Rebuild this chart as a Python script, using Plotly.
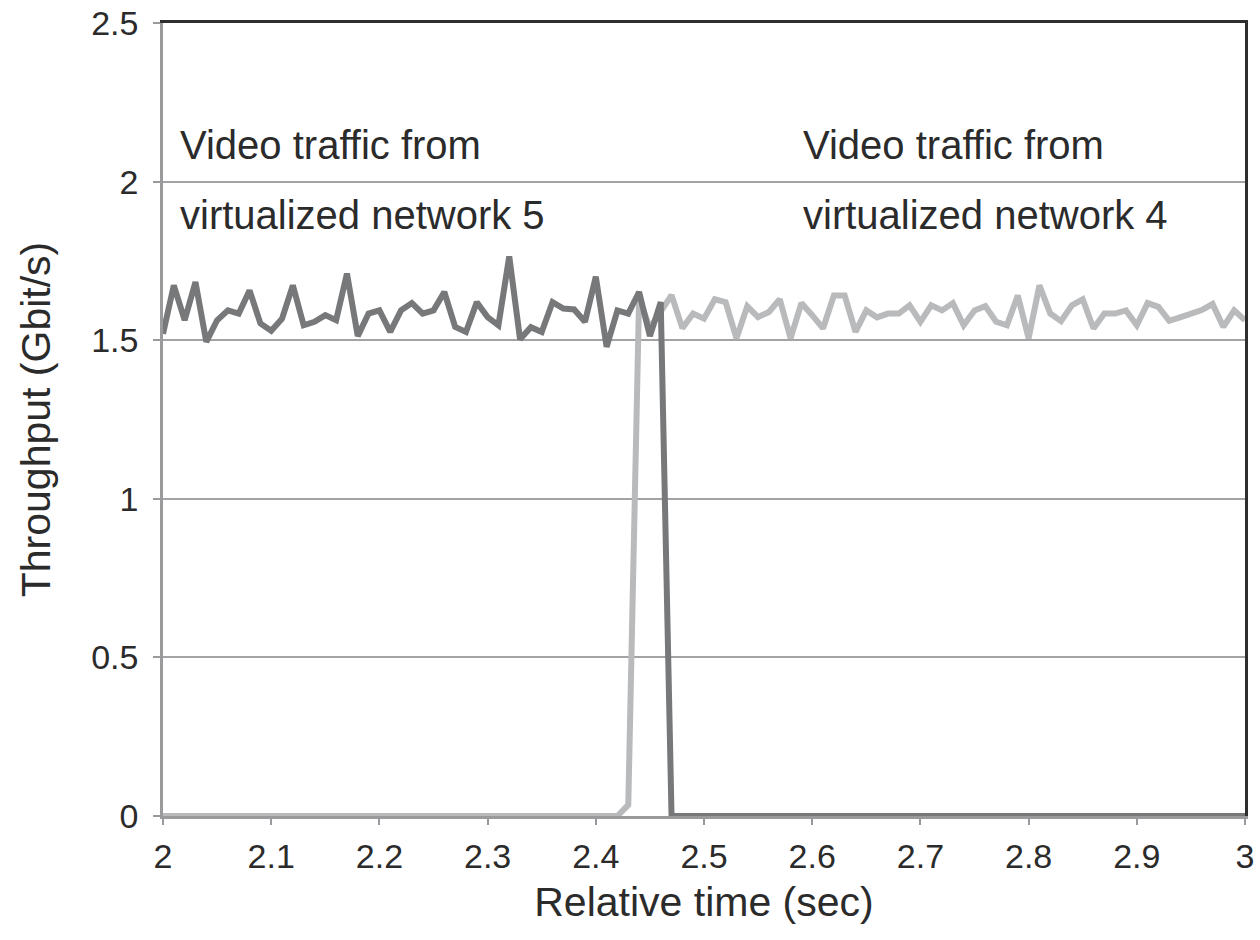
import plotly.graph_objects as go

time_sec = [
    2.00, 2.01, 2.02, 2.03, 2.04, 2.05, 2.06, 2.07, 2.08, 2.09,
    2.10, 2.11, 2.12, 2.13, 2.14, 2.15, 2.16, 2.17, 2.18, 2.19,
    2.20, 2.21, 2.22, 2.23, 2.24, 2.25, 2.26, 2.27, 2.28, 2.29,
    2.30, 2.31, 2.32, 2.33, 2.34, 2.35, 2.36, 2.37, 2.38, 2.39,
    2.40, 2.41, 2.42, 2.43, 2.44, 2.45, 2.46, 2.47, 2.48, 2.49,
    2.50, 2.51, 2.52, 2.53, 2.54, 2.55, 2.56, 2.57, 2.58, 2.59,
    2.60, 2.61, 2.62, 2.63, 2.64, 2.65, 2.66, 2.67, 2.68, 2.69,
    2.70, 2.71, 2.72, 2.73, 2.74, 2.75, 2.76, 2.77, 2.78, 2.79,
    2.80, 2.81, 2.82, 2.83, 2.84, 2.85, 2.86, 2.87, 2.88, 2.89,
    2.90, 2.91, 2.92, 2.93, 2.94, 2.95, 2.96, 2.97, 2.98, 2.99,
    3.00,
]

# Video traffic from virtualized network 5 (dark grey)
net5_gbps = [
    1.52, 1.673, 1.563, 1.683, 1.495, 1.563, 1.594, 1.584, 1.657, 1.553,
    1.53, 1.568, 1.673, 1.547, 1.558, 1.579, 1.563, 1.71, 1.513, 1.584,
    1.594, 1.526, 1.594, 1.617, 1.584, 1.594, 1.652, 1.542, 1.526, 1.62,
    1.573, 1.547, 1.764, 1.503, 1.541, 1.526, 1.62, 1.60, 1.597, 1.558,
    1.70, 1.479, 1.594, 1.584, 1.652, 1.513, 1.62, 0, 0, 0,
    0, 0, 0, 0, 0, 0, 0, 0, 0, 0,
    0, 0, 0, 0, 0, 0, 0, 0, 0, 0,
    0, 0, 0, 0, 0, 0, 0, 0, 0, 0,
    0, 0, 0, 0, 0, 0, 0, 0, 0, 0,
    0, 0, 0, 0, 0, 0, 0, 0, 0, 0,
    0,
]

# Video traffic from virtualized network 4 (light grey)
net4_gbps = [
    0, 0, 0, 0, 0, 0, 0, 0, 0, 0,
    0, 0, 0, 0, 0, 0, 0, 0, 0, 0,
    0, 0, 0, 0, 0, 0, 0, 0, 0, 0,
    0, 0, 0, 0, 0, 0, 0, 0, 0, 0,
    0, 0, 0, 0.035, 1.632, 1.538, 1.594, 1.642, 1.538, 1.584,
    1.568, 1.629, 1.62, 1.506, 1.607, 1.573, 1.589, 1.629, 1.506, 1.617,
    1.579, 1.537, 1.641, 1.641, 1.526, 1.594, 1.572, 1.584, 1.584, 1.61,
    1.558, 1.61, 1.594, 1.617, 1.547, 1.594, 1.607, 1.558, 1.547, 1.641,
    1.506, 1.673, 1.584, 1.56, 1.61, 1.629, 1.537, 1.584, 1.584, 1.594,
    1.547, 1.617, 1.605, 1.561, 1.572, 1.583, 1.595, 1.614, 1.542, 1.594,
    1.563,
]

x_ticks = [2, 2.1, 2.2, 2.3, 2.4, 2.5, 2.6, 2.7, 2.8, 2.9, 3]
x_tick_labels = ["2", "2.1", "2.2", "2.3", "2.4", "2.5", "2.6", "2.7", "2.8", "2.9", "3"]
y_ticks = [0, 0.5, 1, 1.5, 2, 2.5]
y_tick_labels = ["0", "0.5", "1", "1.5", "2", "2.5"]

FONT = "Liberation Sans, Arial, Helvetica, sans-serif"
TEXT = "#2b2b2b"
AXIS_GREY = "#9a9a9c"
FRAME_DARK = "#2e2e2e"

fig = go.Figure()
fig.add_trace(go.Scatter(
    x=time_sec, y=net4_gbps, mode="lines",
    line=dict(color="#b9babc", width=6), name="Network 4",
))
fig.add_trace(go.Scatter(
    x=time_sec, y=net5_gbps, mode="lines",
    line=dict(color="#77787a", width=6), name="Network 5",
))
# empty trace that anchors the top/right frame axes
fig.add_trace(go.Scatter(x=[], y=[], xaxis="x2", yaxis="y2", showlegend=False,
                         hoverinfo="skip"))

ann_font = dict(family=FONT, size=40, color=TEXT)
for xv, yv, txt in [
    (2.0140, 2.116, "Video traffic from"),
    (2.0140, 1.895, "virtualized network 5"),
    (2.590, 2.116, "Video traffic from"),
    (2.590, 1.895, "virtualized network 4"),
]:
    fig.add_annotation(x=xv, y=yv, xref="x", yref="y", text=txt, showarrow=False,
                       xanchor="left", yanchor="middle", font=ann_font)

fig.update_layout(
    width=1260, height=940,
    margin=dict(l=163, r=15, t=23, b=124),
    paper_bgcolor="white", plot_bgcolor="white",
    showlegend=False,
    font=dict(family=FONT, color=TEXT),
    xaxis=dict(
        range=[2, 3], tickmode="array", tickvals=x_ticks, ticktext=x_tick_labels,
        ticks="outside", ticklen=6, tickwidth=2, tickcolor=AXIS_GREY,
        showline=True, linecolor=AXIS_GREY, linewidth=2.5,
        showgrid=False, zeroline=False, automargin=False,
        tickfont=dict(family=FONT, size=34, color=TEXT),
        ticklabelstandoff=2, ticklabeloverflow="allow",
        title=dict(text="Relative time (sec)", font=dict(family=FONT, size=41, color=TEXT), standoff=14),
    ),
    yaxis=dict(
        range=[0, 2.5], tickmode="array", tickvals=y_ticks, ticktext=y_tick_labels,
        ticks="outside", ticklen=7, tickwidth=2, tickcolor=AXIS_GREY,
        showline=True, linecolor=AXIS_GREY, linewidth=2.5,
        showgrid=True, gridcolor="#a3a3a5", gridwidth=2, zeroline=False, automargin=False,
        tickfont=dict(family=FONT, size=34, color=TEXT),
        ticklabelstandoff=8, ticklabeloverflow="allow",
        title=dict(text="Throughput (Gbit/s)", font=dict(family=FONT, size=41, color=TEXT), standoff=28),
    ),
    xaxis2=dict(
        overlaying="x", side="top", range=[2, 3], showline=True, linecolor=FRAME_DARK,
        linewidth=2.5, showgrid=False, zeroline=False, showticklabels=False, ticks="",
        automargin=False,
    ),
    yaxis2=dict(
        overlaying="y", side="right", range=[0, 2.5], showline=True, linecolor=FRAME_DARK,
        linewidth=2.5, showgrid=False, zeroline=False, showticklabels=False, ticks="",
        automargin=False,
    ),
)

# remove the default 8px page margin so the figure fills the window exactly
fig.write_html("out.html", config={"displayModeBar": False},
               post_script="document.body.style.margin='0';")
